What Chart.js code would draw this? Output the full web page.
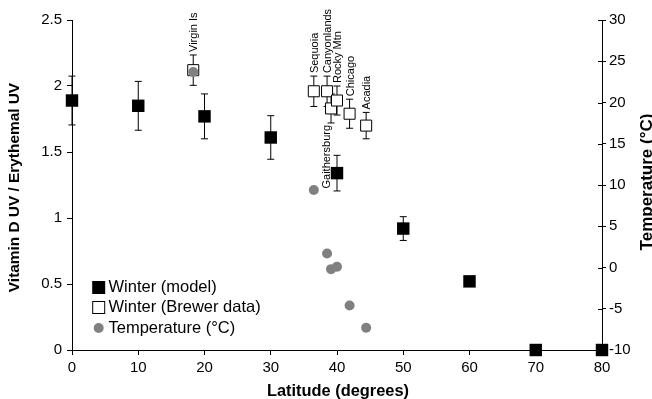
<!DOCTYPE html>
<html>
<head>
<meta charset="utf-8">
<script src="https://cdn.jsdelivr.net/npm/chart.js@4.4.0/dist/chart.umd.min.js"></script>
<style>
html, body { margin: 0; padding: 0; background: #fff; }
#wrap { width: 652px; height: 399px; position: relative; }
</style>
</head>
<body>
<div id="wrap"><canvas id="chart" width="652" height="399"></canvas></div>
<script>
// Winter (model)
const modelLat = [0, 10, 20, 30, 40, 50, 60, 70, 80];
const modelRatio = [1.89, 1.85, 1.77, 1.61, 1.34, 0.92, 0.52, 0, 0];
const modelErr = [0.185, 0.185, 0.17, 0.165, 0.135, 0.09, 0.03, 0, 0];

// Winter (Brewer data)
const sites = ['Virgin Is', 'Sequoia', 'Canyonlands', 'Gaithersburg', 'Rocky Mtn', 'Chicago', 'Acadia'];
const siteLat = [18.3, 36.5, 38.5, 39.1, 40.0, 41.9, 44.4];
const brewerRatio = [2.12, 1.96, 1.96, 1.83, 1.89, 1.79, 1.70];
const brewerErr = [0.115, 0.115, 0.115, 0.11, 0.11, 0.11, 0.10];

// Temperature (°C) at the Brewer sites
const tempC = [23.7, 9.4, 1.7, -0.2, 0.1, -4.6, -7.3];

const FONT = '"Liberation Sans", Arial, Helvetica, sans-serif';

const pts = (xs, ys) => xs.map((x, i) => ({ x: x, y: ys[i] }));

// error bars, drawn under the markers
const errorBars = {
    id: 'errorBars',
    beforeDatasetsDraw(chart) {
        const ctx = chart.ctx;
        const xs = chart.scales.x, ys = chart.scales.y;
        const sets = [[modelLat, modelRatio, modelErr], [siteLat, brewerRatio, brewerErr]];
        ctx.save();
        ctx.strokeStyle = '#000';
        ctx.lineWidth = 1;
        sets.forEach(([lat, val, err]) => {
            lat.forEach((l, i) => {
                if (!err[i]) return;
                const px = xs.getPixelForValue(l);
                const top = ys.getPixelForValue(val[i] + err[i]);
                const bot = ys.getPixelForValue(val[i] - err[i]);
                ctx.beginPath();
                ctx.moveTo(px, top); ctx.lineTo(px, bot);
                ctx.moveTo(px - 3.5, top); ctx.lineTo(px + 3.5, top);
                ctx.moveTo(px - 3.5, bot); ctx.lineTo(px + 3.5, bot);
                ctx.stroke();
            });
        });
        ctx.restore();
    }
};

// site names, titles, legend, inner half of right ticks
const extras = {
    id: 'extras',
    afterDraw(chart) {
        const ctx = chart.ctx;
        const xs = chart.scales.x, ys = chart.scales.y, y2 = chart.scales.y2;
        ctx.save();

        // right axis ticks cross the axis
        ctx.strokeStyle = '#000';
        ctx.lineWidth = 1;
        y2.ticks.forEach(t => {
            const py = Math.round(y2.getPixelForValue(t.value)) + 0.5;
            ctx.beginPath();
            ctx.moveTo(y2.left - 4, py); ctx.lineTo(y2.left, py);
            ctx.stroke();
        });

        // site labels
        ctx.fillStyle = '#000';
        ctx.font = '11px ' + FONT;
        ctx.textBaseline = 'middle';
        sites.forEach((name, i) => {
            const px = xs.getPixelForValue(siteLat[i]);
            ctx.save();
            if (name === 'Gaithersburg') {
                const bot = ys.getPixelForValue(brewerRatio[i] - brewerErr[i]);
                ctx.translate(px - 4.5, bot + 2);
                ctx.rotate(-Math.PI / 2);
                ctx.textAlign = 'right';
            } else {
                const top = ys.getPixelForValue(brewerRatio[i] + brewerErr[i]);
                ctx.translate(px + 1, top - 3);
                ctx.rotate(-Math.PI / 2);
                ctx.textAlign = 'left';
            }
            ctx.fillText(name, 0, 0);
            ctx.restore();
        });

        // axis titles
        ctx.textAlign = 'center';
        ctx.font = 'bold 16.4px ' + FONT;
        ctx.fillText('Latitude (degrees)', 338, 391);
        ctx.save();
        ctx.font = 'bold 15.4px ' + FONT;
        ctx.translate(15, 187.5);
        ctx.rotate(-Math.PI / 2);
        ctx.fillText('Vitamin D UV / Erythemal UV', 0, 0);
        ctx.restore();
        ctx.save();
        ctx.font = 'bold 17px ' + FONT;
        ctx.translate(647, 182);
        ctx.rotate(-Math.PI / 2);
        ctx.fillText('Temperature (\u00B0C)', 0, 0);
        ctx.restore();

        // legend
        ctx.font = '16.5px ' + FONT;
        ctx.textAlign = 'left';
        const lx = 98.7, tx = 108.5;
        const rows = [287.5, 307.5, 328];
        ctx.fillStyle = '#000';
        ctx.fillRect(lx - 6.5, rows[0] - 6.5, 13, 13);
        ctx.fillText('Winter (model)', tx, rows[0]);
        ctx.strokeRect(lx - 6, rows[1] - 6, 12, 12);
        ctx.fillText('Winter (Brewer data)', tx, rows[1]);
        ctx.fillStyle = '#808080';
        ctx.beginPath();
        ctx.arc(lx, rows[2], 5, 0, Math.PI * 2);
        ctx.fill();
        ctx.fillStyle = '#000';
        ctx.fillText('Temperature (\u00B0C)', tx, rows[2]);

        ctx.restore();
    }
};

const axisStyle = {
    grid: { drawOnChartArea: false, color: '#000', tickLength: 5, tickWidth: 1 },
    border: { color: '#000', width: 1 }
};
const tickFont = { family: FONT, size: 15 };

new Chart(document.getElementById('chart'), {
    type: 'scatter',
    data: {
        datasets: [
            {
                label: 'Winter (model)',
                data: pts(modelLat, modelRatio),
                yAxisID: 'y',
                pointStyle: 'rect',
                pointRadius: 8.8,
                backgroundColor: '#000',
                borderColor: '#000',
                borderWidth: 0,
                clip: false,
                order: 2
            },
            {
                label: 'Winter (Brewer data)',
                data: pts(siteLat, brewerRatio),
                yAxisID: 'y',
                pointStyle: 'rect',
                pointRadius: 7.8,
                backgroundColor: '#fff',
                borderColor: '#000',
                borderWidth: 1,
                clip: false,
                order: 1
            },
            {
                label: 'Temperature (\u00B0C)',
                data: pts(siteLat, tempC),
                yAxisID: 'y2',
                pointStyle: 'circle',
                pointRadius: 5,
                backgroundColor: '#808080',
                borderColor: '#808080',
                borderWidth: 0,
                clip: false,
                order: 0
            }
        ]
    },
    options: {
        responsive: false,
        animation: false,
        events: [],
        layout: { padding: { top: 20, left: 0, right: 0, bottom: 0 } },
        plugins: { legend: { display: false }, tooltip: { enabled: false } },
        scales: {
            x: {
                type: 'linear', min: 0, max: 80,
                ticks: { stepSize: 10, color: '#000', font: tickFont, padding: 4, maxRotation: 0 },
                ...axisStyle,
                afterFit: s => { s.height = 49; }
            },
            y: {
                position: 'left', min: 0, max: 2.5,
                ticks: { stepSize: 0.5, color: '#000', font: tickFont, padding: 5, callback: v => String(v) },
                ...axisStyle,
                afterFit: s => { s.width = 72; }
            },
            y2: {
                position: 'right', min: -10, max: 30,
                ticks: { stepSize: 5, color: '#000', font: tickFont, padding: 3, callback: v => String(v) },
                grid: { drawOnChartArea: false, color: '#000', tickLength: 4, tickWidth: 1 },
                border: { color: '#000', width: 1 },
                afterFit: s => { s.width = 50; }
            }
        }
    },
    plugins: [errorBars, extras]
});
</script>
</body>
</html>
